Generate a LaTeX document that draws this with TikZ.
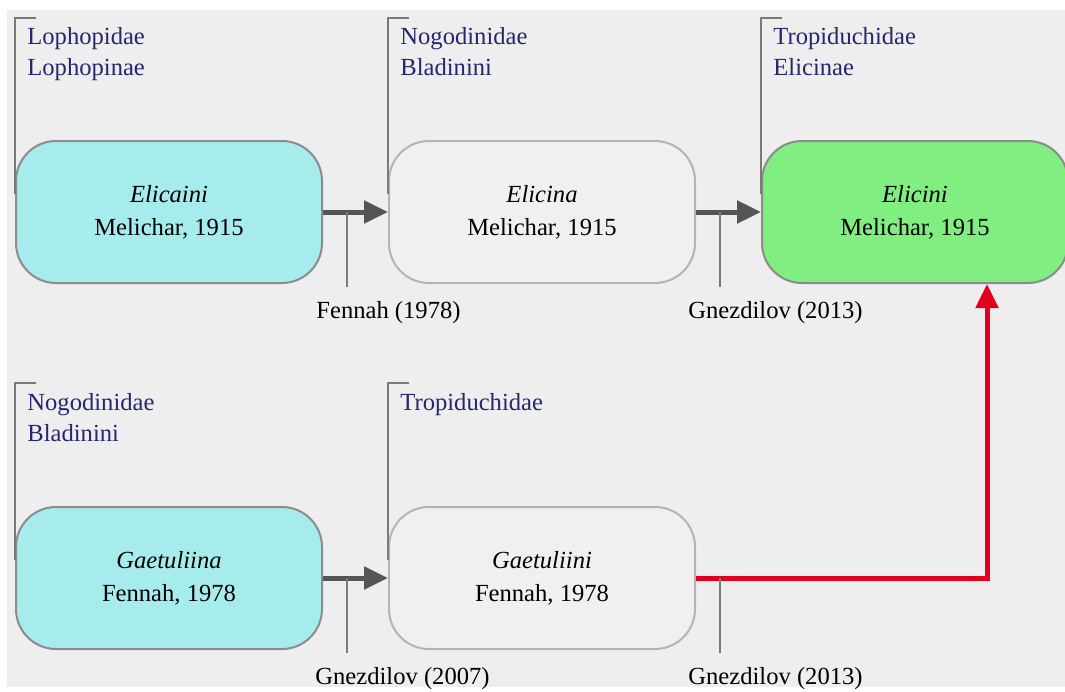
\documentclass[tikz,border=0pt]{standalone}
\usepackage{fontspec}
\setmainfont{Liberation Serif}
\usetikzlibrary{positioning,arrows.meta}

\definecolor{bgcol}{HTML}{EEEEEE}
\definecolor{cyanfill}{HTML}{A6ECEC}
\definecolor{greenfill}{HTML}{80EE80}
\definecolor{plainfill}{HTML}{F0F0F0}
\definecolor{darkedge}{HTML}{8C8C8C}
\definecolor{lightedge}{HTML}{B4B4B4}
\definecolor{navy}{HTML}{26266F}
\definecolor{arrowgray}{HTML}{555555}
\definecolor{tickgray}{HTML}{7A7A7A}
\definecolor{redline}{HTML}{E2001A}

\begin{document}
\begin{tikzpicture}[x=0.5pt,y=-0.5pt,
    taxon/.style={rounded corners=20pt,line width=1pt,minimum width=153pt,minimum height=71pt,
        align=center,inner sep=0pt,font=\fontsize{12.3}{16.5}\selectfont},
    oldtaxon/.style={taxon,draw=darkedge,fill=cyanfill},
    midtaxon/.style={taxon,draw=lightedge,fill=plainfill},
    newtaxon/.style={taxon,draw=darkedge,fill=greenfill},
    family/.style={anchor=north west,align=left,inner sep=0pt,text=navy,font=\fontsize{12.3}{15.5}\selectfont},
    author/.style={anchor=west,inner sep=0pt,font=\fontsize{12.3}{15}\selectfont},
    bracket/.style={draw=tickgray,line width=1pt},
    tick/.style={draw=tickgray,line width=1pt},
    move/.style={draw=arrowgray,line width=2.5pt,-{Triangle[length=12pt,width=11pt]}},
    transfer/.style={draw=redline,line width=2.5pt,-{Triangle[length=12pt,width=11pt]}}]
    \useasboundingbox (0,0) rectangle (1065,691);
    \clip (0,0) rectangle (1065,691);
    \fill[bgcol] (7,10) rectangle (1065,687);

    % upper row
    \node[oldtaxon] (a) at (169,212) {\textit{Elicaini}\\Melichar, 1915};
    \node[midtaxon] (b) [right=32.5pt of a] {\textit{Elicina}\\Melichar, 1915};
    \node[newtaxon] (c) [right=32.5pt of b] {\textit{Elicini}\\Melichar, 1915};

    % lower row
    \node[oldtaxon] (d) [below=111pt of a] {\textit{Gaetuliina}\\Fennah, 1978};
    \node[midtaxon] (e) [right=32.5pt of d] {\textit{Gaetuliini}\\Fennah, 1978};

    % families
    \node[family] (fa) at ([xshift=6pt]a.west |- 0,27) {Lophopidae\\Lophopinae};
    \node[family] (fb) at ([xshift=6pt]b.west |- 0,27) {Nogodinidae\\Bladinini};
    \node[family] (fc) at ([xshift=6pt]c.west |- 0,27) {Tropiduchidae\\Elicinae};
    \node[family] (fd) at ([xshift=6pt]d.west |- 0,393) {Nogodinidae\\Bladinini};
    \node[family] (fe) at ([xshift=6pt]e.west |- 0,393) {Tropiduchidae};

    \foreach \n/\top in {a/18,b/18,c/18,d/383,e/383}
        \draw[bracket] ([xshift=10.5pt]\n.west |- 0,\top) -- (\n.west |- 0,\top) -- ([yshift=9pt]\n.west);

    % arrows
    \draw[move] (a.east) -- (b.west);
    \draw[move] (b.east) -- (c.west);
    \draw[move] (d.east) -- (e.west);
    \coordinate (up) at ([xshift=36pt]c.south);
    \draw[transfer,rounded corners=0pt] (e.east) -| (up);

    % ticks and authors
    \coordinate (t1) at ([xshift=12pt]a.east);
    \coordinate (t2) at ([xshift=12pt]b.east);
    \coordinate (t3) at ([xshift=12pt]d.east);
    \coordinate (t4) at ([xshift=12pt]e.east);
    \foreach \t in {t1,t2,t3,t4}
        \draw[tick] (\t) -- ([yshift=-37.5pt]\t);
    \node[author] (r1) at ([xshift=-15.5pt,yshift=-50.5pt]t1) {Fennah (1978)};
    \node[author] (r2) at ([xshift=-16pt,yshift=-50.5pt]t2) {Gnezdilov (2013)};
    \node[author] (r3) at ([xshift=-16pt,yshift=-50.5pt]t3) {Gnezdilov (2007)};
    \node[author] (r4) at ([xshift=-16pt,yshift=-50.5pt]t4) {Gnezdilov (2013)};
\end{tikzpicture}
\end{document}
